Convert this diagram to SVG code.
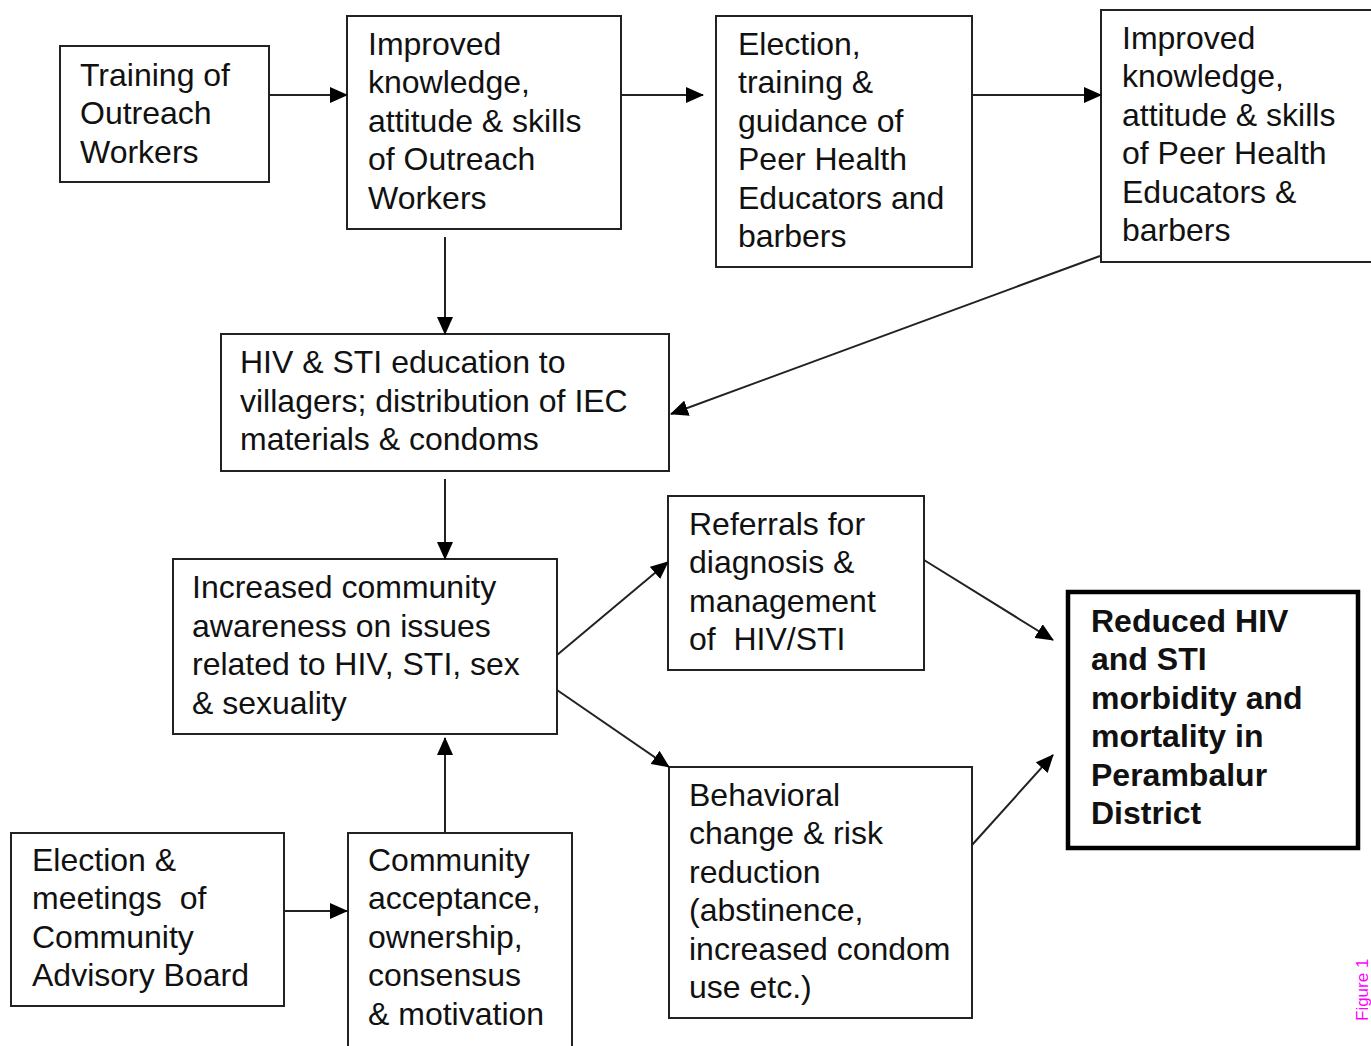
<svg xmlns="http://www.w3.org/2000/svg" width="1371" height="1046" viewBox="0 0 1371 1046">
<defs>
<marker id="ah" markerUnits="userSpaceOnUse" markerWidth="18" markerHeight="16" refX="17" refY="8" orient="auto">
<path d="M0,0 L18,8 L0,16 Z" fill="#000"/>
</marker>
<style>
.box{fill:#fff;stroke:#222;stroke-width:2}
.bold{fill:#fff;stroke:#000;stroke-width:4.5}
.t{font-family:"Liberation Sans",Arial,sans-serif;font-size:32px;fill:#111;white-space:pre}
.tb{font-family:"Liberation Sans",Arial,sans-serif;font-size:32px;font-weight:bold;fill:#111}
.c{stroke:#222;stroke-width:2;fill:none;marker-end:url(#ah)}
</style>
</defs>
<rect width="1371" height="1046" fill="#fff"/>
<g id="n1"><rect class="box" x="60" y="46" width="209" height="136"/>
<text class="t" x="80"><tspan x="80" y="86">Training of</tspan><tspan x="80" y="124">Outreach</tspan><tspan x="80" y="163">Workers</tspan></text></g>
<g id="n2"><rect class="box" x="347" y="16" width="274" height="213"/>
<text class="t"><tspan x="368" y="55">Improved</tspan><tspan x="368" y="93">knowledge,</tspan><tspan x="368" y="132">attitude &amp; skills</tspan><tspan x="368" y="170">of Outreach</tspan><tspan x="368" y="209">Workers</tspan></text></g>
<g id="n3"><rect class="box" x="716" y="16" width="256" height="251"/>
<text class="t"><tspan x="738" y="55">Election,</tspan><tspan x="738" y="93">training &amp;</tspan><tspan x="738" y="132">guidance of</tspan><tspan x="738" y="170">Peer Health</tspan><tspan x="738" y="209">Educators and</tspan><tspan x="738" y="247">barbers</tspan></text></g>
<g id="n4"><rect class="box" x="1101" y="10" width="275" height="252"/>
<text class="t"><tspan x="1122" y="49">Improved</tspan><tspan x="1122" y="87">knowledge,</tspan><tspan x="1122" y="126">attitude &amp; skills</tspan><tspan x="1122" y="164">of Peer Health</tspan><tspan x="1122" y="203">Educators &amp;</tspan><tspan x="1122" y="241">barbers</tspan></text></g>
<g id="n5"><rect class="box" x="221" y="334" width="448" height="137"/>
<text class="t"><tspan x="240" y="373">HIV &amp; STI education to</tspan><tspan x="240" y="412">villagers; distribution of IEC</tspan><tspan x="240" y="450">materials &amp; condoms</tspan></text></g>
<g id="n6"><rect class="box" x="173" y="559" width="384" height="175"/>
<text class="t"><tspan x="192" y="598">Increased community</tspan><tspan x="192" y="637">awareness on issues</tspan><tspan x="192" y="675">related to HIV, STI, sex</tspan><tspan x="192" y="714">&amp; sexuality</tspan></text></g>
<g id="n7"><rect class="box" x="668" y="496" width="256" height="174"/>
<text class="t"><tspan x="689" y="535">Referrals for</tspan><tspan x="689" y="573">diagnosis &amp;</tspan><tspan x="689" y="612">management</tspan><tspan x="689" y="650">of  HIV/STI</tspan></text></g>
<g id="n8"><rect class="box" x="669" y="767" width="303" height="251"/>
<text class="t"><tspan x="689" y="806">Behavioral</tspan><tspan x="689" y="844">change &amp; risk</tspan><tspan x="689" y="883">reduction</tspan><tspan x="689" y="921">(abstinence,</tspan><tspan x="689" y="960">increased condom</tspan><tspan x="689" y="998">use etc.)</tspan></text></g>
<g id="n9"><rect class="bold" x="1068" y="592" width="290" height="256"/>
<text class="tb"><tspan x="1091" y="632">Reduced HIV</tspan><tspan x="1091" y="670">and STI</tspan><tspan x="1091" y="709">morbidity and</tspan><tspan x="1091" y="747">mortality in</tspan><tspan x="1091" y="786">Perambalur</tspan><tspan x="1091" y="824">District</tspan></text></g>
<g id="n10"><rect class="box" x="11" y="833" width="273" height="173"/>
<text class="t"><tspan x="32" y="871">Election &amp;</tspan><tspan x="32" y="909">meetings  of</tspan><tspan x="32" y="948">Community</tspan><tspan x="32" y="986">Advisory Board</tspan></text></g>
<g id="n11"><rect class="box" x="348" y="833" width="224" height="215"/>
<text class="t"><tspan x="368" y="871">Community</tspan><tspan x="368" y="909">acceptance,</tspan><tspan x="368" y="948">ownership,</tspan><tspan x="368" y="986">consensus</tspan><tspan x="368" y="1025">&amp; motivation</tspan></text></g>
<g id="connectors">
<line class="c" x1="269" y1="95" x2="347" y2="95"/>
<line class="c" x1="621" y1="95" x2="703" y2="95"/>
<line class="c" x1="972" y1="95" x2="1101" y2="95"/>
<line class="c" x1="445" y1="237" x2="445" y2="334"/>
<line class="c" x1="1100" y1="256" x2="671" y2="414"/>
<line class="c" x1="445" y1="479" x2="445" y2="559"/>
<line class="c" x1="557" y1="655" x2="668" y2="562"/>
<line class="c" x1="557" y1="690" x2="669" y2="767"/>
<line class="c" x1="924" y1="560" x2="1053" y2="640"/>
<line class="c" x1="972" y1="845" x2="1053" y2="755"/>
<line class="c" x1="445" y1="833" x2="445" y2="738"/>
<line class="c" x1="284" y1="911" x2="347" y2="911"/>
</g>
<text x="1368" y="1021" transform="rotate(-90 1368 1021)" font-family="Liberation Sans,Arial,sans-serif" font-size="17" fill="#ff00ff">Figure 1</text>
</svg>
